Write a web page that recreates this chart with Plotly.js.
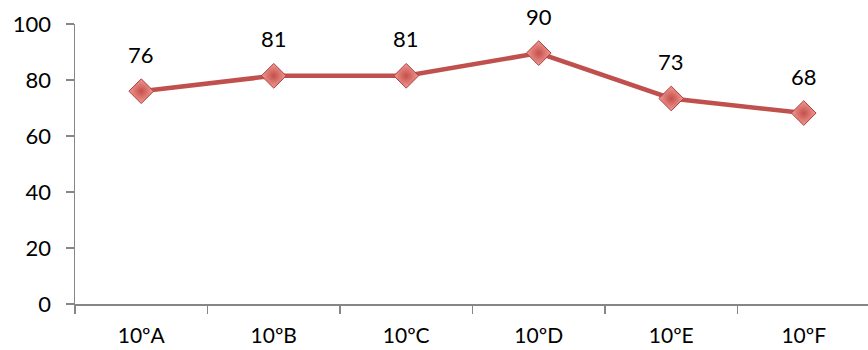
<!DOCTYPE html>
<html>
<head>
<meta charset="utf-8">
<script src="https://cdn.plot.ly/plotly-3.0.1.min.js"></script>
<style>html,body{margin:0;padding:0;background:#fff;}#chart{width:868px;height:350px;}</style>
</head>
<body>
<div id="chart"></div>
<script>
const categories = ["10ºA", "10ºB", "10ºC", "10ºD", "10ºE", "10ºF"];
const values = [76, 81.5, 81.5, 89.6, 73.4, 68.2];
const labels = ["76", "81", "81", "90", "73", "68"];

const FONT = "Lato, 'Open Sans', 'Liberation Sans', sans-serif";

const trace = {
  x: categories,
  y: values,
  type: "scatter",
  mode: "lines+markers",
  line: {color: "#C0504D", width: 4.5},
  marker: {symbol: "diamond", size: 19, color: "#F29A94",
           gradient: {type: "radial", color: "#C44F4A"},
           line: {color: "#A8403D", width: 1}},
  hoverinfo: "skip"
};

const annotations = categories.map((c, i) => ({
  x: c, y: values[i], text: labels[i], showarrow: false,
  yshift: 37, font: {family: FONT, size: 22, color: "#000"}
}));

const layout = {
  width: 868, height: 350,
  margin: {l: 75, r: 0, t: 24, b: 46},
  paper_bgcolor: "#fff", plot_bgcolor: "#fff",
  showlegend: false,
  font: {family: FONT, size: 21, color: "#000"},
  xaxis: {
    type: "category", range: [-0.5, 5.485],
    tickson: "boundaries", ticks: "outside", ticklen: 8, tickwidth: 1.5, tickcolor: "#868686",
    showline: true, linecolor: "#868686", linewidth: 1.5,
    showgrid: false, zeroline: false, fixedrange: true,
    ticklabelstandoff: 12,
    tickfont: {family: FONT, size: 21, color: "#000"}
  },
  yaxis: {
    range: [0, 100], dtick: 20, tick0: 0,
    ticks: "outside", ticklen: 8, tickwidth: 1.5, tickcolor: "#868686",
    showline: true, linecolor: "#868686", linewidth: 1.5,
    showgrid: false, zeroline: false, fixedrange: true,
    ticklabelstandoff: 10,
    tickfont: {family: FONT, size: 22, color: "#000"}
  },
  annotations: annotations
};

Plotly.newPlot("chart", [trace], layout, {displayModeBar: false, staticPlot: true});
</script>
</body>
</html>
